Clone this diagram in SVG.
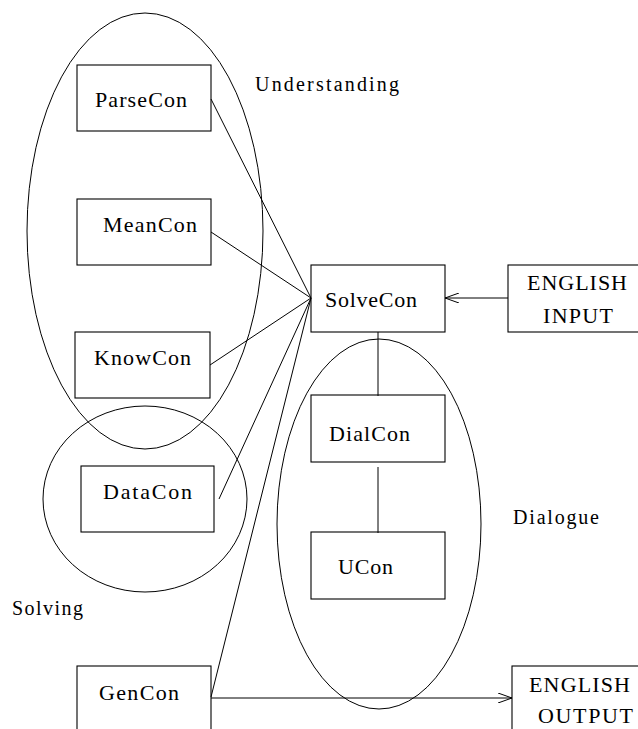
<svg xmlns="http://www.w3.org/2000/svg" width="638" height="729" viewBox="0 0 638 729" font-family="'Liberation Serif', 'DejaVu Serif', serif">
<style>
.box{fill:none;stroke:#000;stroke-width:1.1}
.grp{fill:none;stroke:#000;stroke-width:1}
.ln{fill:none;stroke:#000;stroke-width:1}
text{font-family:'Liberation Serif','DejaVu Serif',serif;fill:#000}
.t{font-size:22px}
.lab{font-size:20px}
</style>
<defs>
<marker id="arr" viewBox="0 0 14 10" refX="14" refY="5" markerWidth="14" markerHeight="10" markerUnits="userSpaceOnUse" orient="auto">
<path d="M0,0 L14,5 L0,10" fill="none" stroke="#000" stroke-width="1"/>
</marker>
</defs>
<rect width="638" height="729" fill="#fff"/>
<g id="groups">
<ellipse id="understanding-area" class="grp" cx="145" cy="231" rx="118" ry="218"/>
<ellipse id="solving-area" class="grp" cx="145" cy="499" rx="102" ry="93"/>
<ellipse id="dialogue-area" class="grp" cx="379" cy="524" rx="102" ry="185"/>
<text class="lab" x="255" y="91" textLength="144" lengthAdjust="spacing">Understanding</text>
<text class="lab" x="12" y="615" textLength="71" lengthAdjust="spacing">Solving</text>
<text class="lab" x="513" y="524" textLength="86" lengthAdjust="spacing">Dialogue</text>
</g>
<g id="connectors">
<line class="ln" x1="211" y1="99" x2="311" y2="298"/>
<line class="ln" x1="211" y1="232" x2="311" y2="298"/>
<line class="ln" x1="210" y1="365" x2="311" y2="298"/>
<line class="ln" x1="219" y1="499" x2="311" y2="298"/>
<line class="ln" x1="211" y1="697" x2="311" y2="298"/>
<line class="ln" x1="508" y1="298" x2="445" y2="298" marker-end="url(#arr)"/>
<line class="ln" x1="211" y1="698" x2="512" y2="698" marker-end="url(#arr)"/>
<line class="ln" x1="378" y1="332" x2="378" y2="396"/>
<line class="ln" x1="378" y1="467" x2="378" y2="533"/>
</g>
<g id="ParseCon">
<rect class="box" x="77" y="65" width="134" height="66"/>
<text class="t" x="95" y="107" textLength="92" lengthAdjust="spacing">ParseCon</text>
</g>
<g id="MeanCon">
<rect class="box" x="77" y="199" width="134" height="66"/>
<text class="t" x="103" y="232" textLength="94" lengthAdjust="spacing">MeanCon</text>
</g>
<g id="KnowCon">
<rect class="box" x="75" y="332" width="135" height="66"/>
<text class="t" x="94" y="365" textLength="97" lengthAdjust="spacing">KnowCon</text>
</g>
<g id="DataCon">
<rect class="box" x="81" y="466" width="133" height="66"/>
<text class="t" x="103" y="499" textLength="89" lengthAdjust="spacing">DataCon</text>
</g>
<g id="GenCon">
<rect class="box" x="77" y="666" width="134" height="80"/>
<text class="t" x="99" y="700" textLength="80" lengthAdjust="spacing">GenCon</text>
</g>
<g id="SolveCon">
<rect class="box" x="311" y="265" width="134" height="67"/>
<text class="t" x="325" y="307" textLength="92" lengthAdjust="spacing">SolveCon</text>
</g>
<g id="DialCon">
<rect class="box" x="311" y="395" width="134" height="67"/>
<text class="t" x="329" y="441" textLength="81" lengthAdjust="spacing">DialCon</text>
</g>
<g id="UCon">
<rect class="box" x="311" y="532" width="134" height="67"/>
<text class="t" x="338" y="574" textLength="55" lengthAdjust="spacing">UCon</text>
</g>
<g id="EnglishInput">
<rect class="box" x="508" y="265" width="140" height="67"/>
<text class="t" x="527" y="290" textLength="100" lengthAdjust="spacing">ENGLISH</text>
<text class="t" x="543" y="323" textLength="70" lengthAdjust="spacing">INPUT</text>
</g>
<g id="EnglishOutput">
<rect class="box" x="512" y="666" width="140" height="80"/>
<text class="t" x="529" y="692" textLength="101" lengthAdjust="spacing">ENGLISH</text>
<text class="t" x="538" y="723" textLength="95" lengthAdjust="spacing">OUTPUT</text>
</g>
</svg>
